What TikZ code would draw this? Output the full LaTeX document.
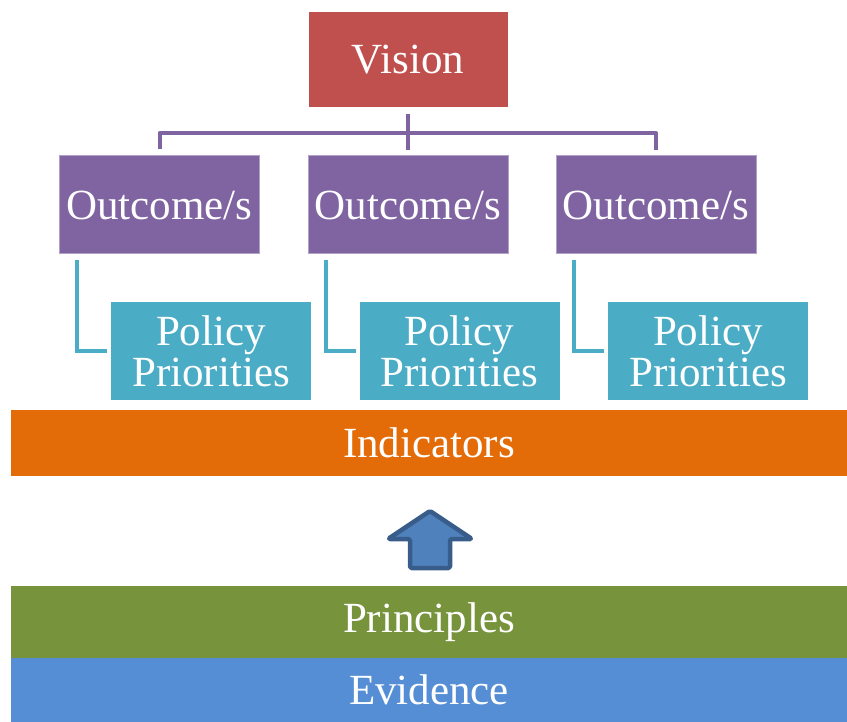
\documentclass[tikz,border=0pt]{standalone}
\usepackage{fontspec}
\setmainfont{Liberation Serif}
\usetikzlibrary{arrows.meta,calc}

\definecolor{visionred}{HTML}{C0504D}
\definecolor{outcomepurple}{HTML}{8064A2}
\definecolor{policycyan}{HTML}{4BACC6}
\definecolor{indicatororange}{HTML}{E36C09}
\definecolor{principlegreen}{HTML}{77933C}
\definecolor{evidenceblue}{HTML}{558ED5}
\definecolor{arrowfill}{HTML}{4F81BD}
\definecolor{arrowline}{HTML}{385D8A}

\begin{document}
\begin{tikzpicture}[
    x=1pt, y=-1pt,
    box/.style={rectangle,draw=white,line width=1pt,text=white,align=center,inner sep=0pt,
        font=\fontsize{43}{41}\selectfont},
    vision box/.style={box,fill=visionred,minimum width=200pt,minimum height=96pt},
    outcome box/.style={box,fill=outcomepurple,draw=outcomepurple!60,minimum width=200pt,minimum height=98pt},
    policy box/.style={box,fill=policycyan,minimum width=201pt,minimum height=98pt},
    layer bar/.style={box,draw=none,minimum width=836pt},
    purple link/.style={outcomepurple,line width=4pt,shorten <=6pt,shorten >=5pt},
    cyan link/.style={policycyan,line width=4pt,shorten <=6pt,shorten >=3pt},
    up arrow/.style={fill=arrowfill,draw=arrowline,line width=4.5pt,line join=round,rounded corners=1.5pt}
]
\useasboundingbox (0,0) rectangle (847,722);

% Visao
\node[vision box] (vision) at (408,60) {Vision};

% Resultados
\node[outcome box] (out1) at (159.5,205) {Outcome/s};
\node[outcome box] (out2) at (408,205) {Outcome/s};
\node[outcome box] (out3) at (656,205) {Outcome/s};

% Barramento roxo
\coordinate (bus) at (408,133);
\draw[purple link] (vision.south) -- (out2.north);
\draw[purple link,line join=round] (out1.north) -- (out1.north |- bus) -- (out3.north |- bus) -- (out3.north);

% Prioridades
\node[policy box] (pol1) at (211,351) {Policy\\Priorities};
\node[policy box] (pol2) at (459.5,351) {Policy\\Priorities};
\node[policy box] (pol3) at (708,351) {Policy\\Priorities};

% Ligacoes azuis
\foreach \i in {1,2,3}
    \draw[cyan link] ([xshift=18pt]out\i.south west) |- (pol\i.west);

% Camadas
\node[layer bar,fill=indicatororange,minimum height=66pt] (indicators) at (429,443) {Indicators};
\node[layer bar,fill=principlegreen,minimum height=72pt] (principles) at (429,622) {Principles};
\node[layer bar,fill=evidenceblue,minimum height=64pt] (evidence) at (429,690) {Evidence};

% Seta para cima
\coordinate (tip) at (430,511);
\draw[up arrow] (tip) -- ++(42,28) -- ++(-22,0) -- ++(0,29) -- ++(-40,0) -- ++(0,-29) -- ++(-22,0) -- cycle;

\end{tikzpicture}
\end{document}
